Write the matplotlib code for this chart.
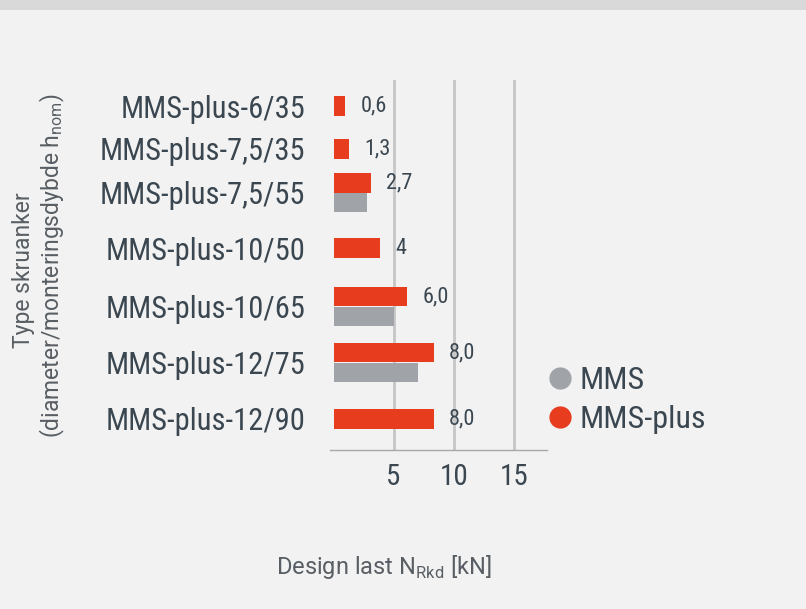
import matplotlib.pyplot as plt
from matplotlib.lines import Line2D

# data
kategorier = ['MMS-plus-6/35', 'MMS-plus-7,5/35', 'MMS-plus-7,5/55', 'MMS-plus-10/50',
              'MMS-plus-10/65', 'MMS-plus-12/75', 'MMS-plus-12/90']
mms_plus = [0.95, 1.25, 3.1, 3.85, 6.1, 8.35, 8.35]
mms = [None, None, 2.8, None, 5.0, 7.0, None]
etiketter = ['0,6', '1,3', '2,7', '4', '6,0', '8,0', '8,0']
x_ticks = [5, 10, 15]

rod = '#e73c1e'
gra = '#a0a3a7'
tekst = '#3b4750'
titel = '#585e63'
bg = '#f2f2f2'
smal = 'Roboto Condensed'
normal = 'Roboto'

fig = plt.figure(figsize=(8.06, 6.09), dpi=100)
fig.patch.set_facecolor(bg)
# grey band at the top
fig.add_artist(plt.Rectangle((0, 1 - 10 / 609), 1, 10 / 609, transform=fig.transFigure,
                             color='#d9d9d9', lw=0))

ax = fig.add_axes([330.3 / 806, (609 - 450.3) / 609, (547 - 330.3) / 806, (450.3 - 80) / 609])
ax.set_facecolor(bg)

# row centres in pixel space of the original layout
rader = [106, 149, 192.5, 248, 306.5, 362.5, 419]
h = 19.7
for i, y in enumerate(rader):
    if mms[i] is not None:
        ax.barh(y - h / 2, mms_plus[i], height=h, color=rod, zorder=3)
        ax.barh(y + h / 2, mms[i], height=h, color=gra, zorder=3)
        ly = y - h / 2
    else:
        ax.barh(y, mms_plus[i], height=h, color=rod, zorder=3)
        ly = y
    ax.annotate(etiketter[i], (mms_plus[i], ly), xytext=(11, 0), textcoords='offset points',
                va='center', ha='left', fontsize=16, color=tekst, family=smal)

ax.set_ylim(450.3, 80)
ax.set_xlim(-0.28, 17.78)
ax.set_xticks(x_ticks)
ax.set_xticklabels([str(v) for v in x_ticks], fontsize=21, color=tekst, family=smal)
ax.set_yticks(rader)
ax.set_yticklabels(kategorier, fontsize=22, color=tekst, family=smal)
ax.tick_params(axis='y', length=0, pad=18)
ax.tick_params(axis='x', length=0, pad=9)
ax.grid(axis='x', color='#c6c6c6', lw=2, zorder=0)
for s in ['top', 'right', 'left']:
    ax.spines[s].set_visible(False)
ax.spines['bottom'].set_color('#a8a8a8')
ax.spines['bottom'].set_linewidth(1)

fig.text(24 / 806, 1 - 270 / 609, 'Type skruanker', rotation=90, ha='center', va='center',
         fontsize=16.5, color=titel, family=normal)
fig.text(52 / 806, 1 - 266 / 609, '(diameter/monteringsdybde h$_{\\mathregular{nom}}$)',
         rotation=90, ha='center', va='center', fontsize=16.5, color=titel, family=normal)
fig.text(384 / 806, 1 - 567 / 609, 'Design last N$_{\\mathregular{Rkd}}$ [kN]',
         ha='center', va='center', fontsize=17, color=titel, family=normal)

handles = [Line2D([], [], marker='o', ls='', ms=15, color=gra),
           Line2D([], [], marker='o', ls='', ms=15, color=rod)]
leg = fig.legend(handles, ['MMS', 'MMS-plus'], loc='center left',
                 bbox_to_anchor=(512 / 806, 1 - 400 / 609), frameon=False,
                 prop={'family': smal, 'size': 23}, handletextpad=0.0, labelspacing=0.3,
                 handlelength=1.2)
for t in leg.get_texts():
    t.set_color(tekst)

fig.savefig('out.png', dpi=100, facecolor=bg)
